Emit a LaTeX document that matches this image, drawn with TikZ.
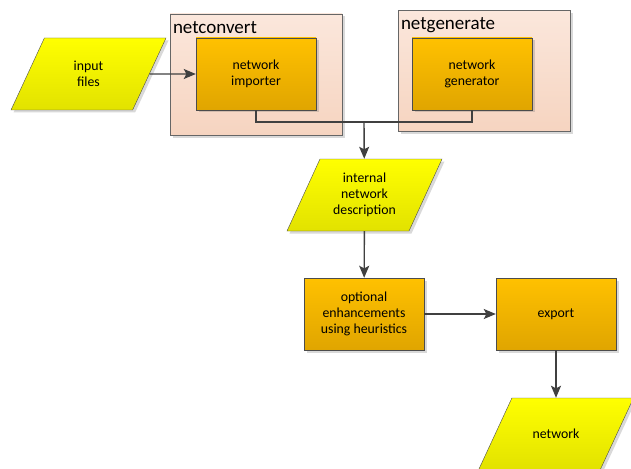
\documentclass[tikz,border=0pt]{standalone}
\usepackage{fontspec}
\setmainfont{Carlito}
\usetikzlibrary{shapes.geometric,shadows,arrows.meta}
\definecolor{boxtop}{RGB}{255,193,0}
\definecolor{boxbot}{RGB}{224,165,0}
\definecolor{datatop}{RGB}{255,255,0}
\definecolor{databot}{RGB}{226,226,0}
\definecolor{tooltop}{RGB}{251,231,220}
\definecolor{toolbot}{RGB}{246,212,192}
\definecolor{linegray}{RGB}{64,64,64}

\begin{document}
\begin{tikzpicture}[x=1pt, y=-1pt,
    font=\fontsize{13.8}{16}\selectfont,
    shade/.style={drop shadow={shadow xshift=2.5pt, shadow yshift=-2.5pt, opacity=0.25, fill=black!60}},
    tool/.style={draw=black!60, top color=tooltop, bottom color=toolbot, minimum width=172, minimum height=121, shade},
    toollabel/.style={anchor=north west, inner sep=2pt, font=\fontsize{19}{21}\selectfont},
    process/.style={draw=black!70, top color=boxtop, bottom color=boxbot, minimum width=120, minimum height=72, align=center, shade},
    data/.style={trapezium, trapezium left angle=64.7, trapezium right angle=115.3, trapezium stretches body,
        draw=black!70, top color=datatop, bottom color=databot, minimum width=155, minimum height=72,
        inner ysep=#1, align=center, shade},
    flow/.style={draw=linegray, line width=1.4pt, -{Stealth[length=12pt, width=10pt, inset=2.5pt]}}]
    \useasboundingbox (0,0) rectangle (631,468);
    % the two tools
    \node[tool] (netconvert) at (256, 74.5) {};
    \node[toollabel] (convlabel) at ([shift={(1,5)}]netconvert.north west) {netconvert};
    \node[tool] (netgenerate) at (484, 71) {};
    \node[toollabel] (genlabel) at ([shift={(1,5)}]netgenerate.north west) {netgenerate};
    \node[process] (importer) at (256, 74) {network\\importer};
    \node[process] (generator) at (472, 74) {network\\generator};
    % data and steps
    \node[data=22.5] (infiles) at (88.5, 74) {input\\files};
    \node[data=13] (desc) at (364.5, 195) {internal\\network\\description};
    \node[process] (enhance) at (364, 314) {optional\\enhancements\\using heuristics};
    \node[process] (export) at (556, 314) {export};
    \node[data=30.5] (network) at (556, 434) {network};
    \coordinate (join) at (364, 122);
    % connectors
    \draw[flow] (infiles) -- (importer);
    \draw[draw=linegray, line width=1.4pt] (importer.south) |- (join) -| (generator.south);
    \draw[flow] (join) -- (desc);
    \draw[flow] (desc) -- (enhance);
    \draw[flow] (enhance) -- (export);
    \draw[flow] (export) -- (network);
\end{tikzpicture}
\end{document}
